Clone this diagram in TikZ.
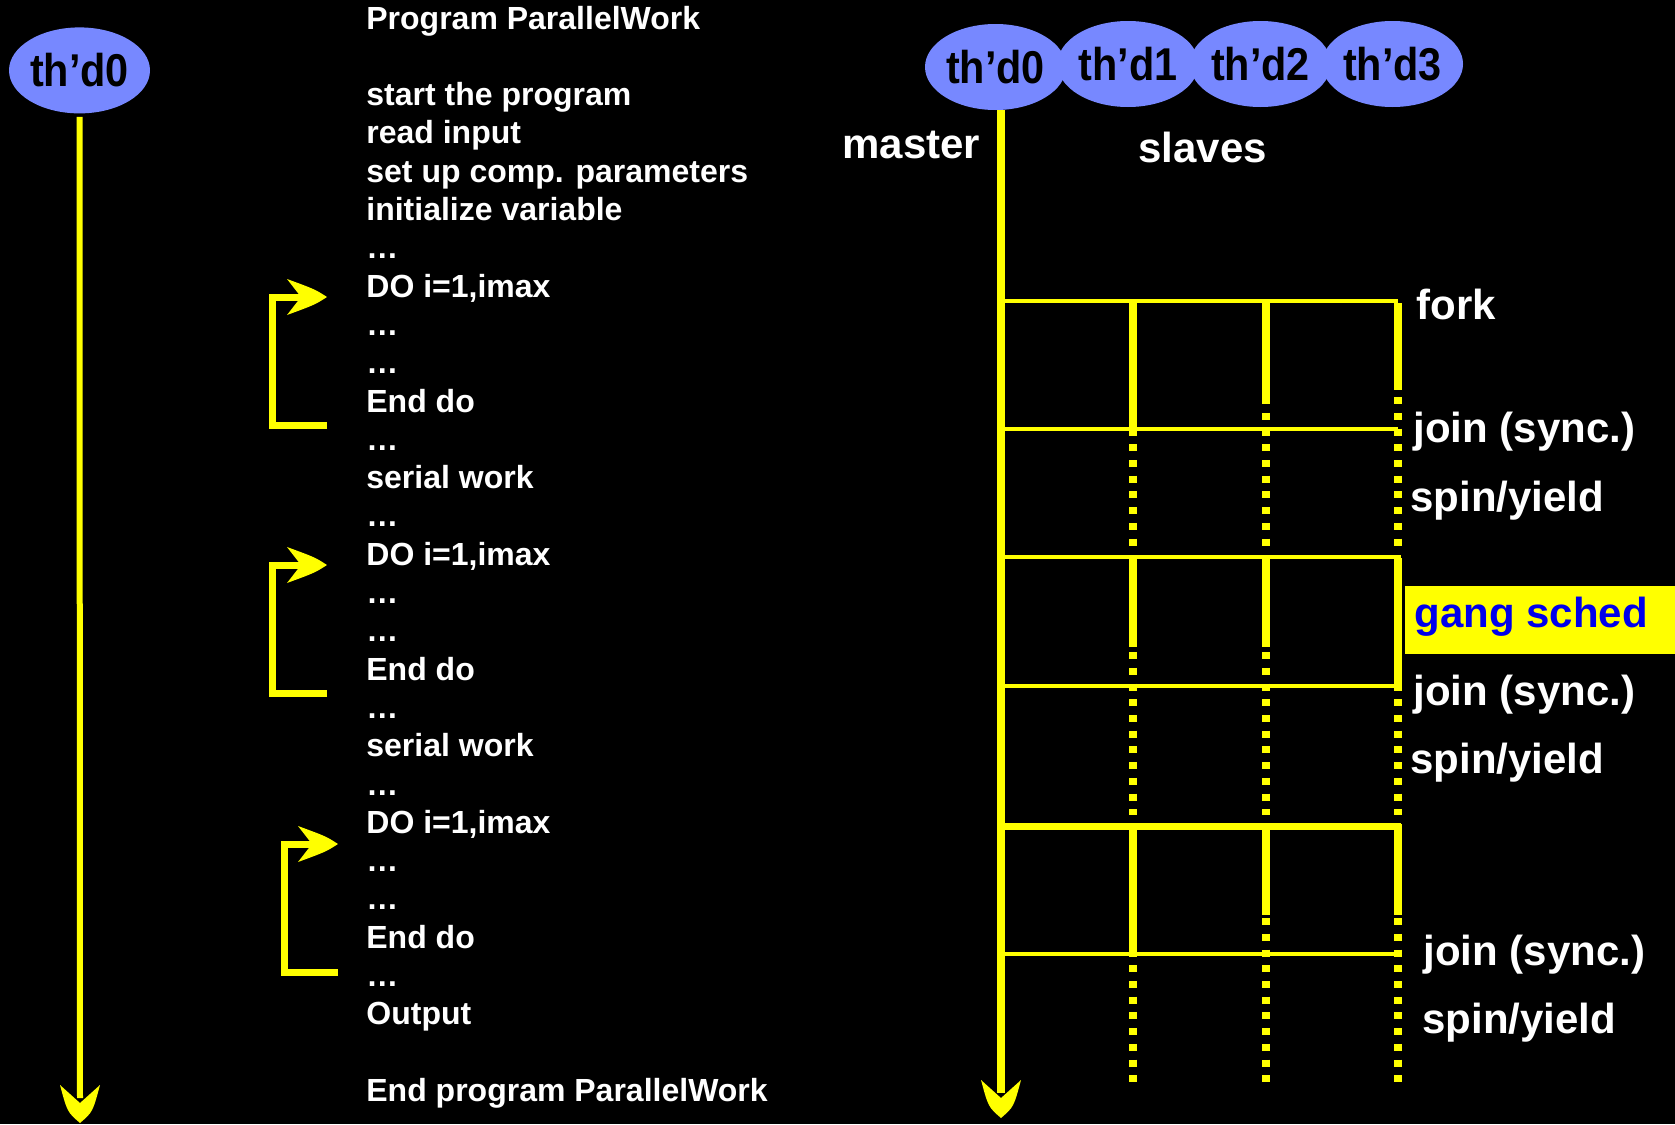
\documentclass[tikz,border=0pt]{standalone}
\usepackage{fontspec}
\setmainfont{Liberation Sans}
\usepackage{graphicx}
\usetikzlibrary{shapes.geometric}
\definecolor{thblue}{RGB}{119,136,255}
\definecolor{ylw}{RGB}{255,255,0}
\definecolor{gangblue}{RGB}{0,0,235}

\begin{document}
\begin{tikzpicture}[x=0.5pt,y=-0.5pt,
  thread/.style={ellipse, fill=thblue, minimum width=70.5pt, minimum height=43pt,
    inner sep=0pt, text=black, font=\bfseries\fontsize{23pt}{27pt}\selectfont},
  code/.style={anchor=base west, inner sep=0pt, text=white,
    font=\bfseries\fontsize{16pt}{19pt}\selectfont},
  lbl/.style={anchor=base west, inner sep=0pt, text=white,
    font=\bfseries\fontsize{21pt}{25pt}\selectfont},
  timeline/.style={ylw, line width=#1},
  loopline/.style={ylw, line width=3.5pt},
  hbar/.style={ylw, line width=2pt},
  hbarthick/.style={ylw, line width=3.5pt},
  busy/.style={ylw, line width=4pt},
  idle/.style={ylw, line width=4pt, dash pattern=on 3.5pt off 4.35pt},
  % arrow heads, drawn with their tip at the origin of the pic
  downhead/.pic={\fill[ylw] (0,0) .. controls (-12.7,-11) .. (-20,-38)
      -- (0,-20) -- (20,-38) .. controls (12.7,-11) .. (0,0) -- cycle;},
  righthead/.pic={\fill[ylw] (0,0) .. controls (-12,-7.7) .. (-40,-18)
      -- (-26,0) -- (-40,18) .. controls (-12,7.7) .. (0,0) -- cycle;},
]
% background and page size
\fill[black] (0,0) rectangle (1675,1124);
\useasboundingbox (0,0) rectangle (1675,1124);

% ---------- serial view: one thread ----------
\node[thread] (th0L) at (79.5,70.4) {\scalebox{0.9}[1]{th’d0}};
\coordinate (ltip) at (80,1123);
\coordinate (lneck) at (80,1098);
\draw[timeline=3pt, shorten <=1.5pt] (th0L.south) -- (lneck);
\pic at (ltip) {downhead};

% program listing
\foreach \k/\t in {0/Program ParallelWork, 2/start the program, 3/read input,
    4/set up comp. parameters, 5/initialize variable, 6/…, 7/{DO i=1,imax},
    8/…, 9/…, 10/End do, 11/…, 12/serial work, 13/…, 14/{DO i=1,imax},
    15/…, 16/…, 17/End do, 18/…, 19/serial work, 20/…, 21/{DO i=1,imax},
    22/…, 23/…, 24/End do, 25/…, 26/Output, 28/End program ParallelWork}
  \node[code] (c\k) at (366,{29+38.3*\k}) {\t};

% loop brackets with their arrow heads
\coordinate (b1tip) at (327,297); \coordinate (b1neck) at (303,297);
\coordinate (b1end) at (327,425);
\draw[loopline] (b1end) -- ++(-55,0) |- (b1neck);
\pic at (b1tip) {righthead};
\coordinate (b2tip) at (327,565); \coordinate (b2neck) at (303,565);
\coordinate (b2end) at (327,693);
\draw[loopline] (b2end) -- ++(-55,0) |- (b2neck);
\pic at (b2tip) {righthead};
\coordinate (b3tip) at (338,844); \coordinate (b3neck) at (314,844);
\coordinate (b3end) at (338,972);
\draw[loopline] (b3end) -- ++(-54,0) |- (b3neck);
\pic at (b3tip) {righthead};

% ---------- parallel view: master and slaves ----------
\node[thread] (th3) at (1392.5,64) {\scalebox{0.9}[1]{th’d3}};
\node[thread] (th2) at (1260.5,64) {\scalebox{0.9}[1]{th’d2}};
\node[thread] (th1) at (1128,64) {\scalebox{0.9}[1]{th’d1}};
\node[thread] (th0R) at (995.5,67) {\scalebox{0.9}[1]{th’d0}};

\node[lbl] (master) at (842,158) {master};
\node[lbl] (slaves) at (1138,162) {slaves};

% idle (spin/yield) phases of the slaves
\foreach \x in {1133,1266,1398} {
  \draw[idle] (\x,303) -- (\x,550);
  \draw[idle] (\x,558) -- (\x,815);
  \draw[idle] (\x,824) -- (\x,1083);
}
% busy phases of the slaves
\draw[busy] (1133,301) -- (1133,432);
\draw[busy] (1266,304) -- (1266,397);
\draw[busy] (1398,304) -- (1398,390);
\draw[busy] (1133,561) -- (1133,647);
\draw[busy] (1266,561) -- (1266,647);
\draw[busy] (1398,561) -- (1398,688);
\draw[busy] (1133,826) -- (1133,954);
\draw[busy] (1266,830) -- (1266,915);
\draw[busy] (1398,830) -- (1398,915);

% fork / join bars
\draw[hbar] (1001,301) -- (1398,301);
\draw[hbar] (1001,429) -- (1398,429);
\draw[hbar] (1001,557) -- (1401,557);
\draw[hbar] (1001,686) -- (1398,686);
\draw[hbarthick] (1001,826) -- (1401,826);
\draw[hbar] (1001,954) -- (1398,954);

% master time line
\coordinate (mtip) at (1001,1118);
\coordinate (mneck) at (1001,1093);
\draw[timeline=4pt] (th0R.south -| mtip) -- (mneck);
\pic at (mtip) {downhead};

% phase labels
\node[lbl] (fork) at (1416,319) {fork};
\node[lbl] (join1) at (1413,442) {join (sync.)};
\node[lbl] (spin1) at (1410,511) {spin/yield};
\fill[ylw] (1405,586) rectangle (1675,654);
\node[lbl, text=gangblue] (gang) at (1414,627) {gang sched};
\node[lbl] (join2) at (1413,705) {join (sync.)};
\node[lbl] (spin2) at (1410,773) {spin/yield};
\node[lbl] (join3) at (1423,965) {join (sync.)};
\node[lbl] (spin3) at (1422,1033) {spin/yield};
\end{tikzpicture}
\end{document}
